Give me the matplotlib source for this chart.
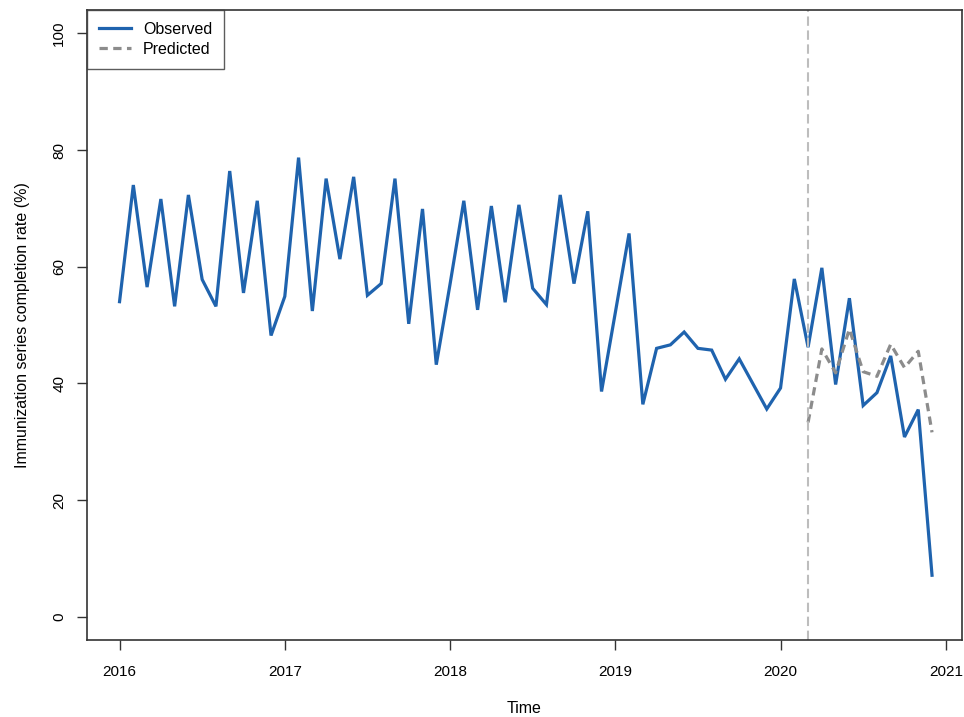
import numpy as np
import matplotlib.pyplot as plt

plt.rcParams['font.family'] = ['Liberation Sans', 'DejaVu Sans']

# monthly completion rate, Jan 2016 .. Dec 2020
observed = [54.0, 74.0, 56.5, 71.6, 53.2, 72.3, 57.8, 53.2, 76.4, 55.5, 71.3, 48.2,
            54.9, 78.7, 52.4, 75.1, 61.3, 75.4, 55.1, 57.1, 75.1, 50.2, 69.9, 43.2,
            57.0, 71.3, 52.6, 70.4, 53.9, 70.6, 56.3, 53.5, 72.3, 57.1, 69.5, 38.6,
            52.1, 65.7, 36.4, 46.0, 46.6, 48.8, 46.0, 45.7, 40.7, 44.2, 39.9, 35.6,
            39.2, 57.9, 46.2, 59.8, 39.8, 54.6, 36.2, 38.4, 44.7, 30.8, 35.5, 7.1]
# counterfactual forecast, Mar 2020 .. Dec 2020
predicted = [33.3, 45.9, 41.8, 49.3, 42.0, 41.2, 46.7, 42.7, 45.5, 31.6]

start_year = 2016
cutoff = 2020 + 2 / 12
years = [2016, 2017, 2018, 2019, 2020, 2021]
y_ticks = [0, 20, 40, 60, 80, 100]

t_obs = start_year + np.arange(len(observed)) / 12
t_pred = t_obs[-len(predicted):]

fig = plt.figure(figsize=(9.64, 7.17), dpi=100)
ax = fig.add_axes([0.0903, 0.1074, 0.9075, 0.8786])

blue = '#1F63AE'
ax.plot(t_obs, observed, color=blue, lw=2.3, label='Observed', solid_joinstyle='miter')
ax.plot(t_pred, predicted, color='#8C8C8C', lw=2.3, ls=(0, (2.6, 1.7)), label='Predicted')
ax.axvline(cutoff, color='#BDBDBD', lw=1.5, ls=(0, (4.5, 2.2)))

# R-style 4% padding around the data range
span = t_obs[-1] - t_obs[0]
ax.set_xlim(t_obs[0] - 0.04 * span, t_obs[-1] + 0.04 * span - 0.016)
ax.set_ylim(-4, 104)

ax.set_xticks(years)
ax.set_yticks(y_ticks)
ax.set_yticklabels([str(v) for v in y_ticks], rotation=90, va='center')
ax.tick_params(direction='out', length=7, width=1, color='#333333',
               labelsize=11, pad=8)
ax.tick_params(axis='x', pad=11)
for s in ax.spines.values():
    s.set_color('#333333')
    s.set_linewidth(1.2)

ax.set_xlabel('Time', fontsize=11.5, labelpad=16)
ax.set_ylabel('Immunization series completion rate (%)', fontsize=11.5, labelpad=16)

leg = ax.legend(loc='upper left', fontsize=11.5, frameon=True, fancybox=False,
                borderaxespad=0, handlelength=2.0, borderpad=0.75,
                labelspacing=0.3, handletextpad=0.75)
leg.get_frame().set_edgecolor('#333333')
leg.get_frame().set_linewidth(1.0)

fig.savefig('out.png', dpi=100)
